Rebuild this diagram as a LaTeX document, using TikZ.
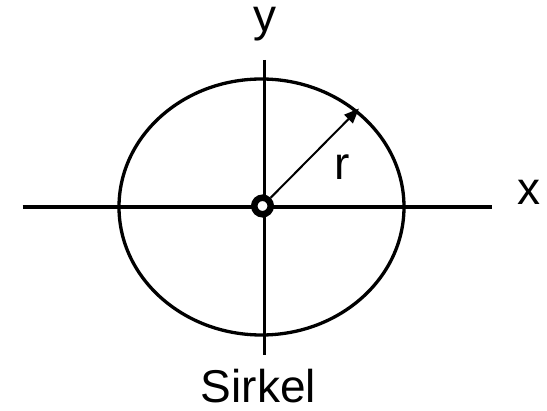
\documentclass[tikz,border=0pt]{standalone}
\usepackage{fontspec}
\setmainfont{Liberation Sans}
\usetikzlibrary{arrows.meta}
\begin{document}
\begin{tikzpicture}[x=1pt,y=-1pt,
  axisline/.style={line width=3.2pt},
  lbl/.style={font=\fontsize{46}{50}\selectfont, inner sep=0pt, anchor=base},
  hub/.style={circle, draw, line width=6.5pt, minimum size=16.5pt, inner sep=0pt, fill=white}]
\useasboundingbox (0,0) rectangle (547,411);
% axis ends
\coordinate (xl) at (22.5,207);
\coordinate (xr) at (492,207);
\coordinate (yt) at (264.3,60);
\coordinate (yb) at (264.3,355);
\coordinate (rim) at (359,108.5);
\draw[axisline] (xl) -- (xr);
\draw[axisline] (yt) -- (yb);
\draw[line width=3.3pt] (261.5,207) ellipse [x radius=142.5, y radius=128];
\node[hub] (O) at (262.5,206) {};
\draw[line width=2pt, -{Triangle[length=15pt,width=12pt]}] (O) -- (rim);
\node[lbl] (ly) at (265,32) {y};
\node[lbl] (lx) at (529,205) {x};
\node[lbl] (lr) at (342.5,180) {r};
\node[lbl] (ls) at (258.5,403) {Sirkel};
\end{tikzpicture}
\end{document}
